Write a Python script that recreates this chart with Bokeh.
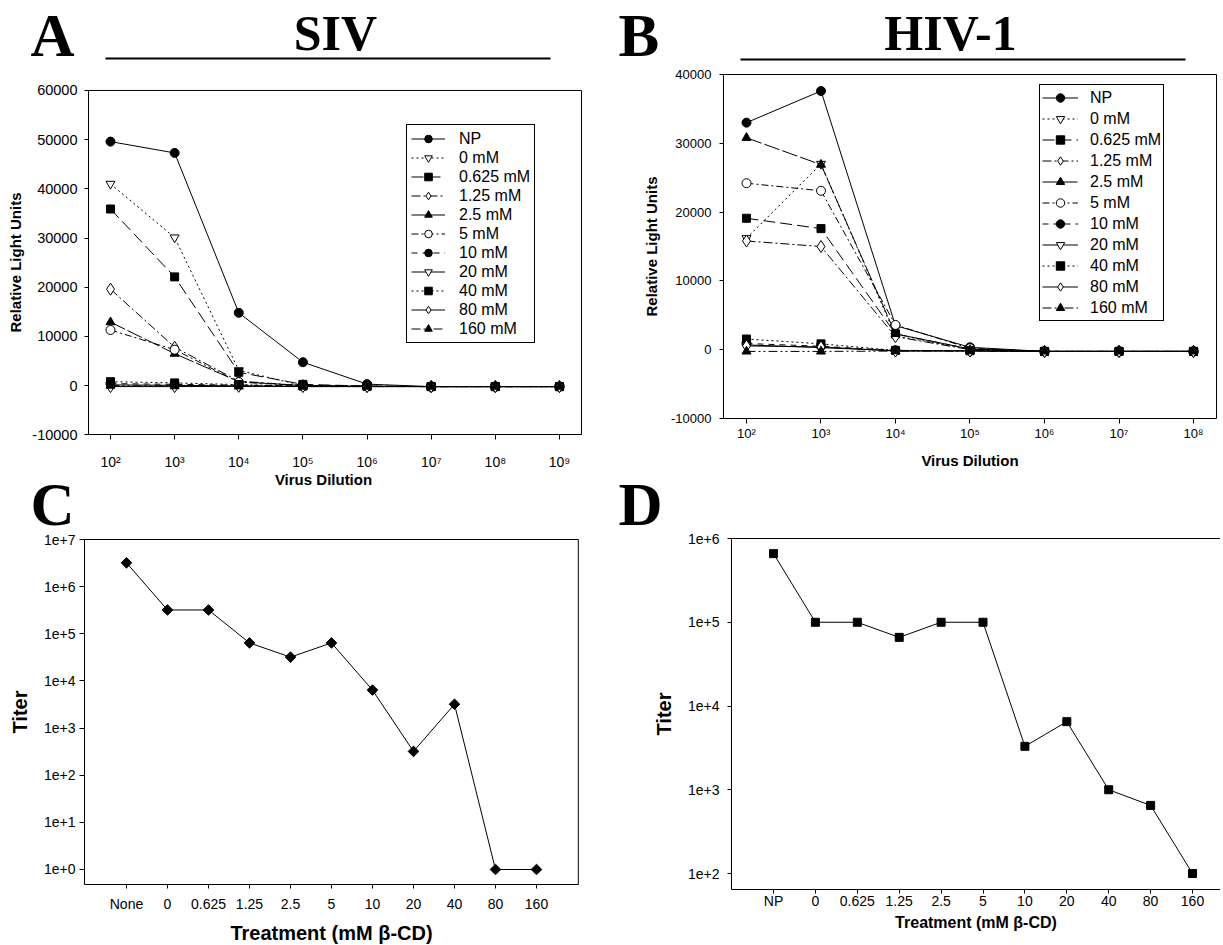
import math
from bokeh.plotting import figure
from bokeh.models import (Range1d, FixedTicker, CustomJSTickFormatter, Label, BoxAnnotation,
                          Legend, LegendItem)
from bokeh.layouts import column, row
from bokeh.embed import file_html
from bokeh.resources import INLINE

# ------------------------------------------------------------------ data
series_labels = ["NP", "0 mM", "0.625 mM", "1.25 mM", "2.5 mM", "5 mM",
                 "10 mM", "20 mM", "40 mM", "80 mM", "160 mM"]

# Panel A - SIV, relative light units per virus dilution
siv_dilution = [1e2, 1e3, 1e4, 1e5, 1e6, 1e7, 1e8, 1e9]
siv_np   = [49600, 47300, 14800, 4750, 300, -200, -200, -200]
siv_0    = [41000, 30100, 3100, 0, -100, -200, -200, -200]
siv_0625 = [35900, 22100, 2700, 250, -100, -200, -200, -200]
siv_125  = [19600, 7800, 900, 0, -150, -200, -200, -200]
siv_25   = [12900, 6500, 800, 0, -150, -200, -200, -200]
siv_5    = [11300, 7300, 700, 0, -150, -200, -200, -200]
siv_10   = [400, 250, 100, -100, -150, -200, -200, -200]
siv_20   = [150, 50, -50, -150, -200, -200, -200, -200]
siv_40   = [800, 550, 200, -100, -150, -200, -200, -200]
siv_80   = [-200, -200, -150, -200, -200, -200, -200, -200]
siv_160  = [0, -100, -150, -200, -200, -200, -200, -200]

# Panel B - HIV-1, relative light units per virus dilution
hiv_dilution = [1e2, 1e3, 1e4, 1e5, 1e6, 1e7, 1e8]
hiv_np   = [33000, 37600, 3500, 350, -250, -250, -250]
hiv_0    = [16200, 27000, 2000, 100, -250, -250, -250]
hiv_0625 = [19100, 17600, 2300, 100, -250, -250, -250]
hiv_125  = [15800, 15000, 1900, 0, -250, -250, -250]
hiv_25   = [30800, 26900, 2300, 100, -250, -250, -250]
hiv_5    = [24200, 23100, 3600, 200, -250, -250, -250]
hiv_10   = [900, 500, -100, -150, -250, -250, -250]
hiv_20   = [700, 300, -150, -150, -250, -250, -250]
hiv_40   = [1550, 850, -100, -150, -250, -250, -250]
hiv_80   = [550, 400, -200, -200, -250, -250, -250]
hiv_160  = [-250, -250, -200, -200, -250, -250, -250]

# Panel C - SIV titer per treatment
siv_treatment = ["None", "0", "0.625", "1.25", "2.5", "5", "10", "20", "40", "80", "160"]
siv_titer = [3.2e6, 3.2e5, 3.2e5, 6.4e4, 3.2e4, 6.4e4, 6.4e3, 320, 3200, 1, 1]

# Panel D - HIV-1 titer per treatment
hiv_treatment = ["NP", "0", "0.625", "1.25", "2.5", "5", "10", "20", "40", "80", "160"]
hiv_titer = [6.6e5, 1e5, 1e5, 6.6e4, 1e5, 1e5, 3.3e3, 6.5e3, 1e3, 650, 100]

# ------------------------------------------------------------------ styles
SANS = "Liberation Sans"
SERIF = "Liberation Serif"

marker_types = ["circle", "inverted_triangle", "square", "diamond", "triangle", "circle",
                "circle", "inverted_triangle", "square", "diamond", "triangle"]
marker_filled = [True, False, True, False, True, False, True, False, True, False, True]
marker_sizes = [9, 9, 8, 12, 9, 9, 9, 9, 8, 12, 9]
line_dashes = ["solid", "2 3", "12 5", "9 3 2 3", "16 3", "7 3 2 3",
               "6 5", "solid", "2 3", "solid", "9 3 2 3 2 3"]

SUP_JS = """
const sup = ['\u2070','\u00b9','\u00b2','\u00b3','\u2074','\u2075','\u2076','\u2077','\u2078','\u2079'];
const e = Math.round(Math.log10(tick));
return '10' + String(e).split('').map(d => sup[parseInt(d)]).join('');
"""
E_JS = "return '1e+' + Math.round(Math.log10(tick));"
INT_JS = "return Math.round(tick).toString();"


def make_fig(width, height, x_range, y_range, x_type="linear", y_type="linear"):
    p = figure(width=width, height=height, x_range=x_range, y_range=y_range,
               x_axis_type=x_type, y_axis_type=y_type, min_border=0,
               output_backend="svg", toolbar_location=None)
    p.title.visible = False
    p.xgrid.visible = False
    p.ygrid.visible = False
    p.background_fill_color = "white"
    p.border_fill_color = "white"
    p.outline_line_color = None
    for ax in p.axis:
        ax.axis_line_color = "black"
        ax.axis_line_width = 1
        ax.major_tick_line_color = "black"
        ax.major_tick_in = 0
        ax.major_tick_out = 4
        ax.minor_tick_line_color = None
        ax.major_label_text_font = SANS
        ax.major_label_text_color = "black"
        ax.axis_label_text_font = SANS
        ax.axis_label_text_font_style = "bold"
        ax.axis_label_text_color = "black"
    return p


def frame_box(p, x0, x1, y0, y1, right=True):
    """Axes pinned to the frame corners, plus top (and right) border lines."""
    p.xaxis.fixed_location = y0
    p.yaxis.fixed_location = x0
    p.xaxis.bounds = (x0, x1)
    p.yaxis.bounds = (y0, y1)
    xs0, ys0, xs1, ys1 = [x0], [y1], [x1], [y1]
    if right:
        xs0.append(x1); ys0.append(y0); xs1.append(x1); ys1.append(y1)
    p.segment(x0=xs0, y0=ys0, x1=xs1, y1=ys1, line_color="black", line_width=1)


def add_text(p, text, x, y, size, font=SANS, style="normal", align="left"):
    p.add_layout(Label(x=x, y=y, x_units="screen", y_units="screen", text=text,
                       text_font=font, text_font_size=f"{size}px", text_font_style=style,
                       text_align=align, text_baseline="alphabetic", text_color="black"))


def add_rule(p, left, right, bottom, top):
    p.add_layout(BoxAnnotation(left=left, right=right, bottom=bottom, top=top,
                               left_units="screen", right_units="screen",
                               bottom_units="screen", top_units="screen",
                               fill_color="black", fill_alpha=1, line_color=None))


def add_series(p, xs, series, loc, glyph_w, standoff, item_h, pad):
    items = []
    for i, ys in enumerate(series):
        lr = p.line(xs, ys, line_color="black", line_width=1, line_dash=line_dashes[i])
        sr = p.scatter(xs, ys, marker=marker_types[i], size=marker_sizes[i],
                       line_color="black", line_width=1,
                       fill_color="black" if marker_filled[i] else "white")
        items.append(LegendItem(label=series_labels[i], renderers=[lr, sr]))
    lg = Legend(items=items, location=loc, border_line_color="black", border_line_width=1,
                border_line_alpha=1, background_fill_color="white", background_fill_alpha=1,
                label_text_font=SANS, label_text_font_size="16px", label_text_color="black",
                glyph_width=glyph_w, glyph_height=item_h, label_height=item_h,
                label_standoff=standoff, spacing=0, padding=pad, margin=0)
    p.add_layout(lg)


# ------------------------------------------------------------------ panel A (SIV)
pA = make_fig(600, 470, Range1d(10 ** 0.285, 10 ** 9.6396), Range1d(-17260, 78288),
              x_type="log")
frame_box(pA, 10 ** 1.657, 10 ** 9.343, -10000, 60000)
add_series(pA, siv_dilution,
           [siv_np, siv_0, siv_0625, siv_125, siv_25, siv_5, siv_10, siv_20, siv_40, siv_80, siv_160],
           (406, 127), 34, 14, 19, 4)
pA.xaxis.ticker = FixedTicker(ticks=siv_dilution)
pA.xaxis.formatter = CustomJSTickFormatter(code=SUP_JS)
pA.xaxis.major_tick_out = 5
pA.xaxis.major_label_standoff = 14
pA.xaxis.major_label_text_font_size = "14px"
pA.yaxis.ticker = FixedTicker(ticks=list(range(-10000, 60001, 10000)))
pA.yaxis.formatter = CustomJSTickFormatter(code=INT_JS)
pA.yaxis.major_label_standoff = 7
pA.yaxis.major_label_text_font_size = "14.5px"
pA.yaxis.axis_label = "Relative Light Units"
pA.yaxis.axis_label_text_font_size = "15px"
pA.yaxis.axis_label_standoff = 5
add_text(pA, "A", 30, 435, 61, SERIF, "bold")
add_text(pA, "SIV", 335, 438, 50, SERIF, "bold", "center")
add_rule(pA, 105, 550, 411, 413)

# ------------------------------------------------------------------ panel B (HIV-1)
pB = make_fig(620, 470, Range1d(10 ** 0.0403, 10 ** 8.3624), Range1d(-17558, 50756),
              x_type="log")
frame_box(pB, 10 ** 1.691, 10 ** 8.309, -10000, 40000)
add_series(pB, hiv_dilution,
           [hiv_np, hiv_0, hiv_0625, hiv_125, hiv_25, hiv_5, hiv_10, hiv_20, hiv_40, hiv_80, hiv_160],
           (439, 149), 36, 12, 21, 2)
pB.xaxis.ticker = FixedTicker(ticks=hiv_dilution)
pB.xaxis.formatter = CustomJSTickFormatter(code=SUP_JS)
pB.xaxis.major_tick_out = 5
pB.xaxis.major_label_standoff = 2
pB.xaxis.major_label_text_font_size = "13px"
pB.xaxis.axis_label = "Virus Dilution"
pB.xaxis.axis_label_text_font_size = "15px"
pB.xaxis.axis_label_standoff = 8
pB.yaxis.ticker = FixedTicker(ticks=list(range(-10000, 40001, 10000)))
pB.yaxis.formatter = CustomJSTickFormatter(code=INT_JS)
pB.yaxis.major_label_standoff = 8
pB.yaxis.major_label_text_font_size = "13px"
pB.yaxis.axis_label = "Relative Light Units"
pB.yaxis.axis_label_text_font_size = "15px"
pB.yaxis.axis_label_standoff = 8
add_text(pB, "B", 18, 435, 61, SERIF, "bold")
add_text(pB, "HIV-1", 350, 438, 50, SERIF, "bold", "center")
add_rule(pB, 140, 585, 410, 412)

# ------------------------------------------------------------------ panel C (SIV titer)
pC = make_fig(600, 475, Range1d(-3.073, 11.561), Range1d(10 ** -1.6122, 10 ** 8.4637),
              y_type="log")
frame_box(pC, -1.024, 11.02, 10 ** -0.318, 1e7)
idx_c = list(range(len(siv_treatment)))
pC.line(idx_c, siv_titer, line_color="black", line_width=1)
pC.scatter(idx_c, siv_titer, marker="square", angle=math.pi / 4, size=7.5,
           fill_color="black", line_color="black")
pC.xaxis.ticker = FixedTicker(ticks=idx_c)
pC.xaxis.major_label_overrides = {i: t for i, t in enumerate(siv_treatment)}
pC.xaxis.major_label_standoff = 8
pC.xaxis.major_label_text_font_size = "14px"
pC.xaxis.axis_label = "Treatment (mM \u03b2-CD)"
pC.xaxis.axis_label_text_font_size = "20px"
pC.xaxis.axis_label_standoff = 6
pC.yaxis.ticker = FixedTicker(ticks=[10.0 ** k for k in range(0, 8)])
pC.yaxis.formatter = CustomJSTickFormatter(code=E_JS)
pC.yaxis.major_tick_out = 5
pC.yaxis.major_label_standoff = 4
pC.yaxis.major_label_text_font_size = "14px"
pC.yaxis.axis_label = "Titer"
pC.yaxis.axis_label_text_font_size = "20px"
pC.yaxis.axis_label_standoff = 10
add_text(pC, "C", 30, 441, 61, SERIF, "bold")
add_text(pC, "Virus Dilution", 323, 466, 15, SANS, "bold", "center")

# ------------------------------------------------------------------ panel D (HIV-1 titer)
pD = make_fig(620, 475, Range1d(-4.129, 10.668), Range1d(10 ** 1.1403, 10 ** 6.812),
              y_type="log")
frame_box(pD, -1.002, 10.668, 10 ** 1.809, 1e6, right=False)
idx_d = list(range(len(hiv_treatment)))
pD.line(idx_d, hiv_titer, line_color="black", line_width=1)
pD.scatter(idx_d, hiv_titer, marker="square", size=8, fill_color="black", line_color="black")
pD.xaxis.ticker = FixedTicker(ticks=idx_d)
pD.xaxis.major_label_overrides = {i: t for i, t in enumerate(hiv_treatment)}
pD.xaxis.major_label_standoff = 0
pD.xaxis.major_label_text_font_size = "14px"
pD.xaxis.axis_label = "Treatment (mM \u03b2-CD)"
pD.xaxis.axis_label_text_font_size = "16px"
pD.xaxis.axis_label_standoff = 1
pD.yaxis.ticker = FixedTicker(ticks=[10.0 ** k for k in range(2, 7)])
pD.yaxis.formatter = CustomJSTickFormatter(code=E_JS)
pD.yaxis.major_label_standoff = 8
pD.yaxis.major_label_text_font_size = "14px"
pD.yaxis.axis_label = "Titer"
pD.yaxis.axis_label_text_font_size = "20px"
pD.yaxis.axis_label_standoff = 10
add_text(pD, "D", 18, 441, 61, SERIF, "bold")

layout = column(row(pA, pB), row(pC, pD))
open("out.html", "w").write(file_html(layout, INLINE))
